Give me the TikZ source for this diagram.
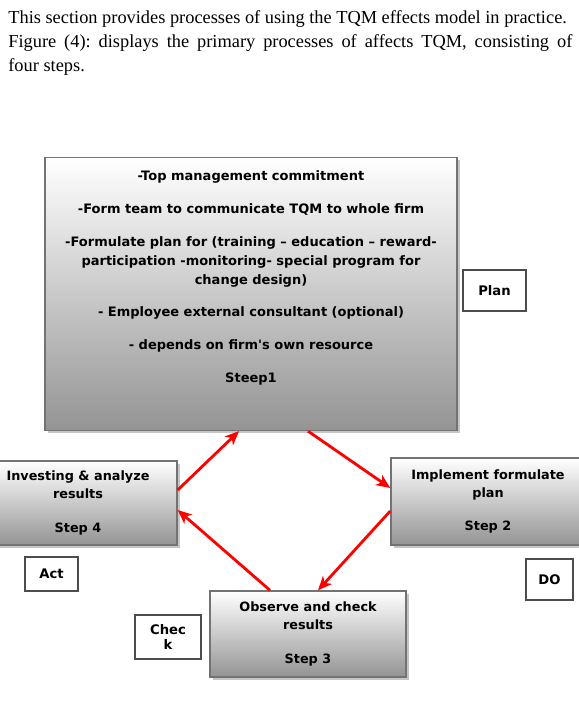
\documentclass[tikz,border=0pt]{standalone}
\usepackage{fontspec}
\setmainfont{Liberation Serif}
\newfontfamily\dvsans{DejaVu Sans}
\usetikzlibrary{shapes,arrows.meta,shadows}
\tikzset{
stepbox/.style={rectangle,draw=black!55,line width=0.8pt,top color=white,bottom color=black!42,
  drop shadow={shadow xshift=0.05cm,shadow yshift=-0.05cm,fill=black!45,opacity=0.5},
  align=center,font=\dvsans\bfseries\fontsize{7.3}{10.2}\selectfont},
tagbox/.style={rectangle,draw=black!70,line width=0.7pt,fill=white,align=center,
  font=\dvsans\bfseries\fontsize{7.5}{9}\selectfont},
cyclearr/.style={line width=1.6pt,red,-{Stealth[length=0.28cm,width=0.24cm,inset=0.08cm]}}
}
\begin{document}
\frenchspacing
\begin{tikzpicture}
\useasboundingbox (0,0) rectangle (11.58,-14.06);
\node[anchor=north west,text width=11.28cm,align=justify,inner sep=0,
  font=\fontsize{10.45}{13.6}\selectfont] (intro) at (0.16,-0.2)
  {This section provides processes of using the TQM effects model in practice.\\
   Figure (4): displays the primary processes of affects TQM, consisting of\linebreak four steps.};
\node[stepbox,anchor=north,minimum width=8.24cm,inner sep=0.25cm,text depth=0.7cm,
  font=\dvsans\bfseries\fontsize{7.4}{10.8}\selectfont] (top) at (5.02,-3.14)
  {-Top management commitment\\[0.28cm]
   -Form team to communicate TQM to whole firm\\[0.28cm]
   -Formulate plan for (training – education – reward-\\
   participation -monitoring- special program for\\
   change design)\\[0.28cm]
   - Employee external consultant (optional)\\[0.28cm]
   - depends on firm's own resource\\[0.28cm]
   Steep1};
\node[tagbox,minimum width=1.26cm,minimum height=0.82cm] (plan) at (9.89,-5.81) {Plan};
\node[stepbox,minimum width=3.88cm,minimum height=1.74cm] (s2) at (9.76,-10.03)
  {Implement formulate\\plan\\[0.32cm]Step 2};
\node[stepbox,minimum width=3.92cm,minimum height=1.72cm] (s3) at (6.16,-12.68)
  {Observe and check\\results\\[0.32cm]Step 3};
\node[stepbox,minimum width=3.96cm,minimum height=1.68cm] (s4) at (1.56,-10.06)
  {Investing \& analyze\\results\\[0.32cm]Step 4};
\node[tagbox,minimum width=1.06cm,minimum height=0.68cm] (act) at (1.03,-11.48) {Act};
\node[tagbox,minimum width=0.94cm,minimum height=0.82cm] (do) at (10.99,-11.59) {DO};
\node[tagbox,minimum width=1.32cm,minimum height=0.88cm] (check) at (3.36,-12.74) {Chec\\k};
\draw[cyclearr] ([yshift=0.26cm]s4.east) -- ([xshift=-0.24cm]top.south);
\draw[cyclearr] ([xshift=1.14cm]top.south) -- ([yshift=0.27cm]s2.west);
\draw[cyclearr] ([yshift=-0.19cm]s2.west) -- ([xshift=0.2cm]s3.north);
\draw[cyclearr] ([xshift=-0.76cm]s3.north) -- ([yshift=-0.14cm]s4.east);
\end{tikzpicture}
\end{document}
